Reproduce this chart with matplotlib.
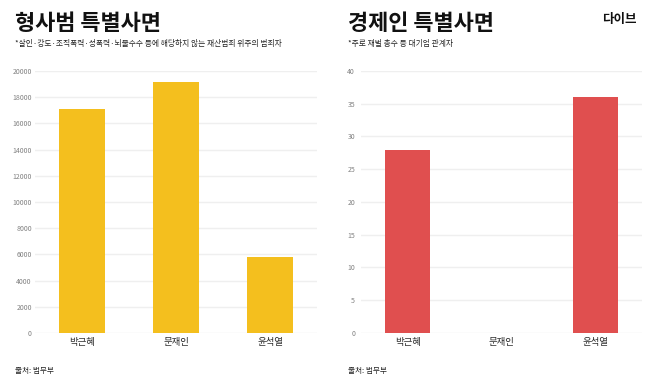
import matplotlib.pyplot as plt

plt.rcParams['font.family'] = ['Noto Sans CJK KR', 'DejaVu Sans']

# 데이터
presidents = ['박근혜', '문재인', '윤석열']
criminal_pardons = [17070, 19190, 5820]
business_pardons = [28, 0, 36]

criminal_ticks = list(range(0, 20001, 2000))
business_ticks = list(range(0, 41, 5))

YELLOW = '#F4BF1E'
RED = '#E04F4F'
GRID = '#EFEFEF'


def draw_panel(ax, values, ticks, color, tick_pad):
    x = range(len(presidents))
    ax.bar(x, values, width=0.48, color=color, zorder=3)
    ax.set_xlim(-0.5, len(presidents) - 0.5)
    ax.set_ylim(ticks[0], ticks[-1])
    ax.set_yticks(ticks)
    ax.set_yticklabels([str(t) for t in ticks])
    ax.set_xticks(list(x))
    ax.set_xticklabels(presidents)
    ax.grid(axis='y', color=GRID, linewidth=1, zorder=0)
    for s in ax.spines.values():
        s.set_visible(False)
    ax.tick_params(axis='y', length=0, pad=tick_pad, labelsize=5, labelcolor='#808080')
    ax.tick_params(axis='x', length=0, pad=3.5, labelsize=6.8, labelcolor='#2a2a2a')
    for lbl in ax.get_yticklabels():
        lbl.set_clip_on(False)


fig = plt.figure(figsize=(6.58, 3.9), dpi=100)

ax1 = fig.add_axes([0.0532, 0.1462, 0.4286, 0.672])
draw_panel(ax1, criminal_pardons, criminal_ticks, YELLOW, 2.3)

ax2 = fig.add_axes([0.5486, 0.1462, 0.427, 0.672])
draw_panel(ax2, business_pardons, business_ticks, RED, 4.3)

# 제목
fig.text(15 / 658, 1 - 23 / 390, '형사범 특별사면', fontsize=15.8, fontweight='bold',
         va='center', ha='left', color='#111111')
fig.text(15 / 658, 1 - 44 / 390,
         '*살인·강도·조직폭력·성폭력·뇌물수수 등에 해당하지 않는 재산범죄 위주의 범죄자',
         fontsize=5.6, va='center', ha='left', color='#222222')
fig.text(348 / 658, 1 - 23 / 390, '경제인 특별사면', fontsize=15.8, fontweight='bold',
         va='center', ha='left', color='#111111')
fig.text(348 / 658, 1 - 44 / 390, '*주로 재벌 총수 등 대기업 관계자',
         fontsize=5.6, va='center', ha='left', color='#222222')

# 로고
fig.text(619 / 658, 1 - 20 / 390, '다이브', fontsize=9, fontweight='bold',
         va='center', ha='center', color='#111111')

# 출처
fig.text(15 / 658, 1 - 371 / 390, '출처: 법무부', fontsize=5.5, va='center', ha='left',
         color='#222222')
fig.text(348 / 658, 1 - 371 / 390, '출처: 법무부', fontsize=5.5, va='center', ha='left',
         color='#222222')

fig.savefig('out.png', dpi=100)
